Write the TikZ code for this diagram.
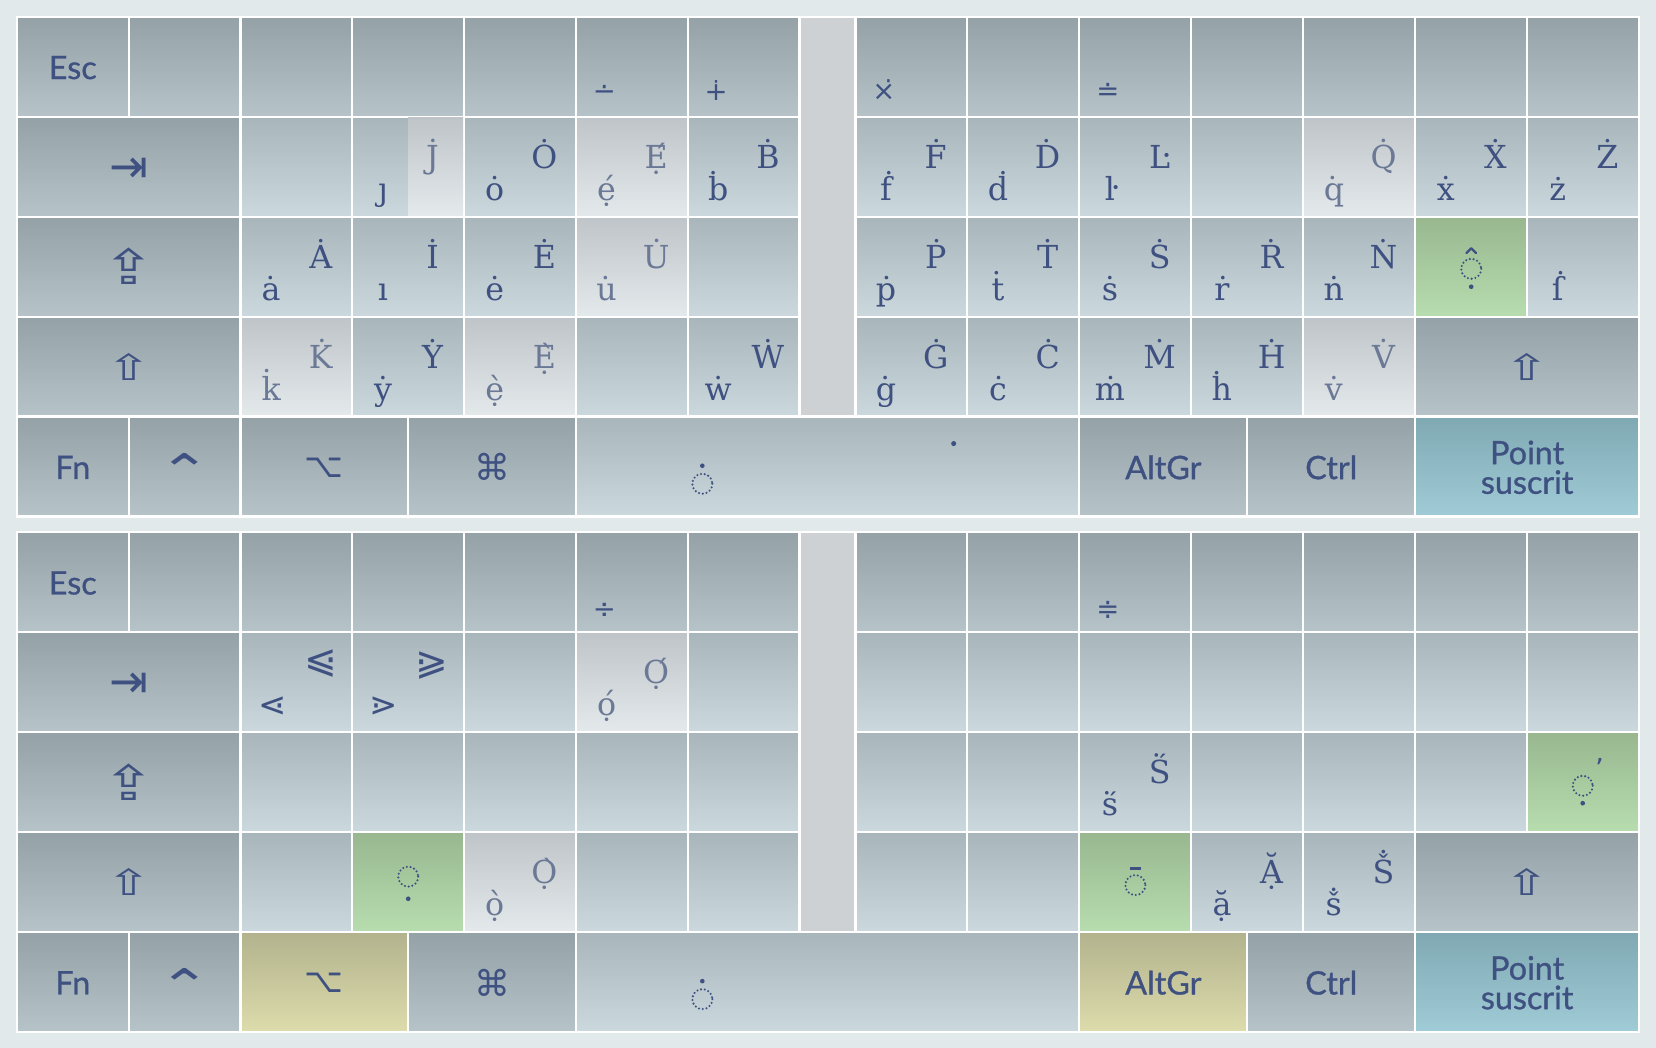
\documentclass[tikz,border=0pt]{standalone}
\usepackage{fontspec}
\setmainfont{DejaVu Serif}
\newfontfamily\lblfont{Lato}[FakeBold=0.9]
\newfontfamily\symfont{DejaVu Sans}
\definecolor{bgc}{HTML}{E1E9EB}
\definecolor{fnT}{HTML}{94A1A7}
\definecolor{fnB}{HTML}{B6C4CA}
\definecolor{ltT}{HTML}{A8B5BB}
\definecolor{ltB}{HTML}{CBD8DE}
\definecolor{hiT}{HTML}{BEC4C7}
\definecolor{hiB}{HTML}{E4EAEC}
\definecolor{grT}{HTML}{98B78F}
\definecolor{grB}{HTML}{B7DDAF}
\definecolor{olT}{HTML}{B2B28D}
\definecolor{olB}{HTML}{DDDCAC}
\definecolor{blT}{HTML}{7FA8B2}
\definecolor{blB}{HTML}{A0CCD7}
\definecolor{gapc}{HTML}{CDD1D3}
\definecolor{txt}{HTML}{3F5181}
\definecolor{txtl}{HTML}{6B7996}
\tikzset{
 kb/.style={draw=white,line width=1pt},
 fnk/.style={kb,top color=fnT,bottom color=fnB},
 ltk/.style={kb,top color=ltT,bottom color=ltB},
 hik/.style={kb,top color=hiT,bottom color=hiB},
 grk/.style={kb,top color=grT,bottom color=grB},
 olk/.style={kb,top color=olT,bottom color=olB},
 blk/.style={kb,top color=blT,bottom color=blB},
 gapk/.style={kb,fill=gapc},
 lowc/.style={anchor=base,inner sep=0pt,text=txt,font=\fontsize{15}{18}\selectfont},
 upc/.style={lowc},
 pale/.style={text=txtl},
 lbl/.style={inner sep=0pt,text=txt,font=\lblfont\fontsize{15.3}{14}\selectfont,align=center},
 sym/.style={inner sep=0pt,text=txt,font=\symfont\fontsize{20}{24}\selectfont},
 msym/.style={anchor=base,inner sep=0pt,text=txt,font=\symfont\fontsize{13}{15}\selectfont},
 cmp/.style={inner sep=0pt,text=txt,font=\symfont\fontsize{16}{18}\selectfont},
 cmpb/.style={inner sep=0pt,text=txt,font=\symfont\fontsize{18.5}{20}\selectfont},
 dotc/.style={draw=txt,line width=1.1pt,dash pattern=on 0pt off 1.8pt,line cap=round},
 dotf/.style={fill=txt},
}
\newcommand\Key[6]{\path[#6] (#2,#3) rectangle (#4,#5); \coordinate (#1) at (#2,#3);}
\newcommand\Lt[6]{%
 \node[lowc,#6] (#1l) at ({#2+29},{#3+79}) {#4};
 \node[upc,#6] (#1u) at ({#2+76},{#3+49}) {#5};}
\newcommand\Board[3]{%
 \Key{#1esc}{16}{16}{121.9}{110.6}{fnk}
 \foreach \j/\a/\b in {1/121.9/227.7,2/227.7/333.6,3/333.6/439.4,4/439.4/545.3,5/545.3/651.1,6/651.1/757}
   {\Key{#1L1\j}{\a}{16}{\b}{110.6}{fnk}}
 \foreach \j/\a/\b in {0/810/916,1/916/1022,2/1022/1128,3/1128/1234,4/1234/1340,5/1340/1446,6/1446/1552}
   {\Key{#1R1\j}{\a}{16}{\b}{110.6}{fnk}}
 \Key{#1gap}{757}{16}{810}{394.4}{gapk}
 \Key{#1tab}{16}{110.6}{227.7}{205.2}{fnk}
 \Key{#1caps}{16}{205.2}{227.7}{299.8}{fnk}
 \Key{#1shl}{16}{299.8}{227.7}{394.4}{fnk}
 \foreach \rw/\ya/\yb in {2/110.6/205.2,3/205.2/299.8,4/299.8/394.4}{
   \foreach \j/\a/\b in {2/227.7/333.6,3/333.6/439.4,4/439.4/545.3,5/545.3/651.1,6/651.1/757}
     {\Key{#1L\rw\j}{\a}{\ya}{\b}{\yb}{ltk}}}
 \foreach \rw/\ya/\yb in {2/110.6/205.2,3/205.2/299.8}{
   \foreach \j/\a/\b in {0/810/916,1/916/1022,2/1022/1128,3/1128/1234,4/1234/1340,5/1340/1446,6/1446/1552}
     {\Key{#1R\rw\j}{\a}{\ya}{\b}{\yb}{ltk}}}
 \foreach \j/\a/\b in {0/810/916,1/916/1022,2/1022/1128,3/1128/1234,4/1234/1340}
   {\Key{#1R4\j}{\a}{299.8}{\b}{394.4}{ltk}}
 \Key{#1shr}{1340}{299.8}{1552}{394.4}{fnk}
 \Key{#1fn}{16}{394.4}{121.9}{489}{fnk}
 \Key{#1ctl}{121.9}{394.4}{227.7}{489}{fnk}
 \Key{#1opt}{227.7}{394.4}{386.5}{489}{#2}
 \Key{#1cmd}{386.5}{394.4}{545.3}{489}{fnk}
 \Key{#1spc}{545.3}{394.4}{1022}{489}{ltk}
 \Key{#1agr}{1022}{394.4}{1181}{489}{#3}
 \Key{#1ctr}{1181}{394.4}{1340}{489}{fnk}
 \Key{#1pt}{1340}{394.4}{1552}{489}{blk}
}
\newcommand\CommonLabels[1]{%
 \node[lbl] (#1Esc) at (68.9,64) {Esc};
 \node[sym,font=\symfont\fontsize{22}{26}\selectfont] (#1Tab) at (121.9,161) {⇥};
 \node[sym,font=\symfont\fontsize{23}{28}\selectfont] (#1Caps) at (121.9,252.5) {\scalebox{1.3}[1]{⇪}};
 \node[sym,font=\symfont\fontsize{17}{22}\selectfont] (#1ShL) at (121.9,347.1) {\scalebox{1.5}[1]{⇧}};
 \node[sym,font=\symfont\fontsize{17}{22}\selectfont] (#1ShR) at (1446,347.1) {\scalebox{1.5}[1]{⇧}};
 \node[lbl] (#1Fn) at (68.9,442.5) {Fn};
 \node[sym,anchor=north,font=\symfont\fontsize{22}{26}\selectfont] (#1Ct) at (174.8,429) {\scalebox{1.35}[1]{⌃}};
 \node[sym,font=\symfont\fontsize{16}{20}\selectfont] (#1Op) at (307.1,442.5) {⌥};
 \node[sym,font=\symfont\fontsize{17}{20}\selectfont] (#1Cm) at (465.9,442.5) {⌘};
 \node[lbl] (#1Ag) at (1101.5,442.5) {AltGr};
 \node[lbl] (#1Cr) at (1260.5,442.5) {Ctrl};
 \node[lbl] (#1Pt) at (1446,442.5) {Point\\suscrit};
 \coordinate (#1SpDk) at (665,458);
 \path[dotc] (#1SpDk) circle[radius=9.5];
 \fill[dotf] (665,441) circle[radius=2.2];
}
\begin{document}
\begin{tikzpicture}[x=0.5pt,y=-0.5pt]
\useasboundingbox[fill=bgc] (0,0) rectangle (1568,992);
% ================= TOP HALF =================
\Board{t}{fnk}{fnk}
\Key{tL25x}{545.3}{110.6}{651.1}{205.2}{hik}
\Key{tL35x}{545.3}{205.2}{651.1}{299.8}{hik}
\Key{tL42x}{227.7}{299.8}{333.6}{394.4}{hik}
\Key{tL44x}{439.4}{299.8}{545.3}{394.4}{hik}
\Key{tR24x}{1234}{110.6}{1340}{205.2}{hik}
\Key{tR44x}{1234}{299.8}{1340}{394.4}{hik}
\Key{tR35x}{1340}{205.2}{1446}{299.8}{grk}
\path[top color=hiT,bottom color=hiB] (386.5,111.6) rectangle (438.4,204.2);
\CommonLabels{t}
\node[msym] (tm1) at (572.3,95) {∸};
\node[msym] (tm2) at (678.1,95) {∔};
\node[msym] (tm3) at (837,95) {×^^^^0307};
\node[msym] (tm4) at (1049,95) {≐};
\node[lowc] (tJl) at (362.6,189.6) {ȷ};
\node[upc,pale] (tJu) at (409.6,159.6) {J^^^^0307};
\Lt{tO}{439.4}{110.6}{ȯ}{Ȯ}{}
\Lt{tE}{545.3}{110.6}{e^^^^0323^^^^0301}{É^^^^0323}{pale}
\Lt{tB}{651.1}{110.6}{ḃ}{Ḃ}{}
\Lt{tF}{810}{110.6}{ḟ}{Ḟ}{}
\Lt{tD}{916}{110.6}{ḋ}{Ḋ}{}
\Lt{tLd}{1022}{110.6}{ŀ}{Ŀ}{}
\Lt{tQ}{1234}{110.6}{q^^^^0307}{Q^^^^0307}{pale}
\Lt{tX}{1340}{110.6}{ẋ}{Ẋ}{}
\Lt{tZ}{1446}{110.6}{ż}{Ż}{}
\Lt{tA}{227.7}{205.2}{ȧ}{Ȧ}{}
\Lt{tI}{333.6}{205.2}{ı}{İ}{}
\Lt{tEd}{439.4}{205.2}{ė}{Ė}{}
\Lt{tU}{545.3}{205.2}{u^^^^0307}{U^^^^0307}{pale}
\Lt{tP}{810}{205.2}{ṗ}{Ṗ}{}
\Lt{tT}{916}{205.2}{ṫ}{Ṫ}{}
\Lt{tS}{1022}{205.2}{ṡ}{Ṡ}{}
\Lt{tR}{1128}{205.2}{ṙ}{Ṙ}{}
\Lt{tN}{1234}{205.2}{ṅ}{Ṅ}{}
\coordinate (tDk1) at (1393,254.5);
\path[dotc] (tDk1) circle[radius=9.5];
\fill[dotf] (1393,271.5) circle[radius=2.2];
\draw[txt,line width=1.1pt,line cap=round,line join=round] (1388.5,239.5) -- (1393,235) -- (1397.5,239.5);
\node[lowc] (tEsh) at (1475,284.2) {ẛ};
\Lt{tK}{227.7}{299.8}{k^^^^0307}{K^^^^0307}{pale}
\Lt{tY}{333.6}{299.8}{ẏ}{Ẏ}{}
\Lt{tEg}{439.4}{299.8}{e^^^^0323^^^^0300}{È^^^^0323}{pale}
\Lt{tW}{651.1}{299.8}{ẇ}{Ẇ}{}
\Lt{tG}{810}{299.8}{ġ}{Ġ}{}
\Lt{tC}{916}{299.8}{ċ}{Ċ}{}
\Lt{tM}{1022}{299.8}{ṁ}{Ṁ}{}
\Lt{tH}{1128}{299.8}{ḣ}{Ḣ}{}
\Lt{tV}{1234}{299.8}{v^^^^0307}{V^^^^0307}{pale}
\coordinate (tSpDot) at (903,420);
\fill[dotf] (tSpDot) circle[radius=2.4];
% ================= BOTTOM HALF =================
\begin{scope}[shift={(0,488)}]
\Board{b}{olk}{olk}
\Key{bL25x}{545.3}{110.6}{651.1}{205.2}{hik}
\Key{bL44x}{439.4}{299.8}{545.3}{394.4}{hik}
\Key{bL43x}{333.6}{299.8}{439.4}{394.4}{grk}
\Key{bR42x}{1022}{299.8}{1128}{394.4}{grk}
\Key{bR36x}{1446}{205.2}{1552}{299.8}{grk}
\CommonLabels{b}
\node[msym] (bm1) at (572.3,98) {÷};
\node[msym] (bm2) at (1049,98) {≑};
\node[cmp] (bLt) at (257.7,181) {⋖};
\node[cmpb] (bLe) at (303.7,140.2) {⩿};
\node[cmp] (bGt) at (362.9,181) {⋗};
\node[cmpb] (bGe) at (408.6,141.7) {⪀};
\Lt{bO}{545.3}{110.6}{o^^^^0323^^^^0301}{Ó^^^^0323}{pale}
\Lt{bS}{1022}{205.2}{ṥ}{Ṥ}{}
\coordinate (bDk1) at (1498.6,256);
\path[dotc] (bDk1) circle[radius=9.5];
\fill[dotf] (1498.6,272.5) circle[radius=2.2];
\node[inner sep=0pt,text=txt,font=\symfont\fontsize{13}{13}\selectfont] (bHorn) at (1514.5,240) {ʼ};
\coordinate (bDk2) at (386.5,342);
\path[dotc] (bDk2) circle[radius=9.5];
\fill[dotf] (386.5,363) circle[radius=2.2];
\Lt{bOg}{439.4}{299.8}{o^^^^0323^^^^0300}{Ò^^^^0323}{pale}
\coordinate (bDk3) at (1075,350);
\path[dotc] (bDk3) circle[radius=9.5];
\draw[txt,line width=1.5pt] (1069.5,334) -- (1080.5,334);
\Lt{bAb}{1128}{299.8}{ặ}{Ặ}{}
\Lt{bSc}{1234}{299.8}{ṧ}{Ṧ}{}
\end{scope}
\end{tikzpicture}
\end{document}
